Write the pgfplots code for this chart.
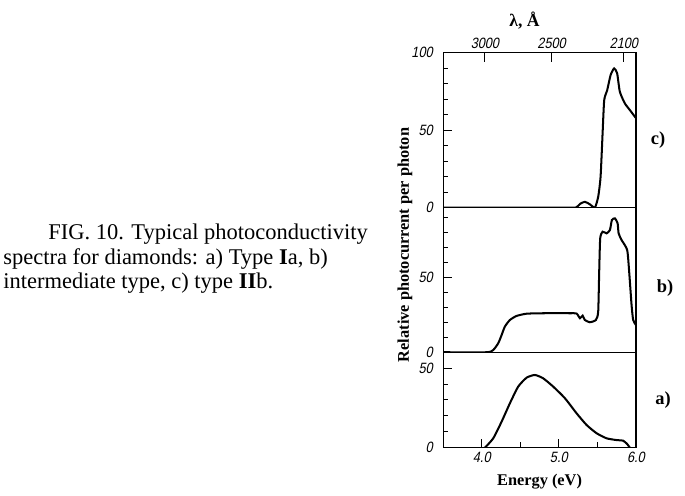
\documentclass[border=0pt]{standalone}
\usepackage{fontspec}
\setmainfont{Liberation Serif}
\newfontfamily\tickfont[FakeStretch=0.85, FakeSlant=0.2]{Liberation Sans}
\usepackage{pgfplots}
\pgfplotsset{compat=1.18}

\pgfplotsset{
  panel/.style={
    scale only axis, width=3.854cm,
    xmin=3.5, xmax=6.0, ymin=0,
    anchor=south west,
    axis line style={line width=0.8pt},
    every tick/.style={black, line width=0.55pt},
    major tick length=5pt, minor tick length=3pt,
    tick align=inside,
    ytick pos=left,
    ticklabel style={font=\tickfont\fontsize{8.5}{9}\selectfont},
    yticklabel style={xshift=-2.5pt},
    /pgf/number format/assume math mode=true,
  },
  curve/.style={black, line width=1.15pt, mark=none, smooth, tension=0.35},
}

\begin{document}
\begin{tikzpicture}[x=0.02cm, y=0.02cm]
\path (0,0) rectangle (685,490);

% a) type Ia
\begin{axis}[panel, at={(8.866cm,0.846cm)}, height=1.91cm, ymax=60,
    ytick={0,50}, minor ytick={10,20,30,40},
    xtick={4,5,6}, xticklabels={4.0,5.0,6.0}, minor xtick={4.5,5.5},
    xtick pos=left, xticklabel pos=left,
    xticklabel style={yshift=1.3pt},
    xlabel={Energy (eV)},
    xlabel style={at={(axis description cs:0.5,0)}, anchor=center, yshift=-0.68cm,
      font=\bfseries\fontsize{9.3}{11}\selectfont}]
\addplot[curve] coordinates {
 (4.041,0) (4.149,5.9) (4.258,16.4) (4.365,27.9) (4.473,38.4) (4.582,44.0)
 (4.690,45.7) (4.797,43.6) (4.927,38.4) (5.079,31.1) (5.231,21.6) (5.360,14.3)
 (5.490,9.1) (5.620,5.9) (5.750,4.8) (5.835,4.4) (5.887,2.3) (5.922,0)
};
\end{axis}

% b) intermediate type
\begin{axis}[panel, at={(8.866cm,2.756cm)}, height=2.894cm, ymax=96.5,
    ytick={0,50}, minor ytick={10,20,30,40,60,70,80,90},
    xtick=\empty]
\addplot[curve] coordinates {
 (3.5,0) (4.063,0) (4.149,1.5) (4.214,6.0) (4.258,11.5) (4.300,17.1) (4.365,21.5)
 (4.452,24.2) (4.582,25.7) (4.8,26.0) (5.144,26.0) (5.231,25.8) (5.274,22.7)
 (5.309,24.4) (5.338,21.5) (5.403,20.0) (5.481,21.5) (5.511,27.0) (5.524,53.7)
 (5.537,76.0) (5.568,80.4) (5.620,79.3) (5.663,81.5) (5.689,88.2) (5.728,89.3)
 (5.763,86.0) (5.776,79.3) (5.814,74.9) (5.887,68.2) (5.913,53.7) (5.944,31.5)
 (5.965,21.5) (6.0,18.2)
};
\end{axis}

% c) type IIb
\begin{axis}[panel, at={(8.866cm,5.65cm)}, height=3.096cm, ymax=100,
    ytick={0,50,100}, minor ytick={10,20,30,40,60,70,80,90},
    xtick={4.041,4.906,5.844}, xticklabels={3000,2500,2100},
    xtick pos=right, xticklabel pos=right,
    xticklabel style={yshift=-1pt}]
\addplot[curve] coordinates {
 (3.5,0) (5.10,0) (5.222,0) (5.28,2.5) (5.338,3.7) (5.40,2.2) (5.468,0)
 (5.511,7.0) (5.542,19.9) (5.568,47.9) (5.589,69.4) (5.628,75.9) (5.672,85.6)
 (5.718,89.9) (5.757,86.7) (5.792,74.8) (5.857,67.3) (5.922,63.0) (5.987,58.7)
 (6.0,58.0)
};
\end{axis}

\node[font=\bfseries\fontsize{10}{12}\selectfont] at (524.5,469) {λ, Å};
\node[rotate=90, font=\bfseries\fontsize{9.3}{11}\selectfont] at (405,245)
  {Relative photocurrent per photon};
\node[font=\bfseries\fontsize{10.5}{12}\selectfont] at (658,350) {c)};
\node[font=\bfseries\fontsize{10.5}{12}\selectfont] at (665,202) {b)};
\node[font=\bfseries\fontsize{10.5}{12}\selectfont] at (663,90) {a)};

\node[anchor=base west, inner sep=0, font=\fontsize{12.8}{15}\selectfont] at (48,250)
  {FIG. 10. Typical photoconductivity};
\node[anchor=base west, inner sep=0, font=\fontsize{12.8}{15}\selectfont] at (3,225.5)
  {spectra for diamonds: a) Type \textbf{I}a, b)};
\node[anchor=base west, inner sep=0, font=\fontsize{12.8}{15}\selectfont] at (3,201)
  {intermediate type, c) type \textbf{II}b.};
\end{tikzpicture}
\end{document}
